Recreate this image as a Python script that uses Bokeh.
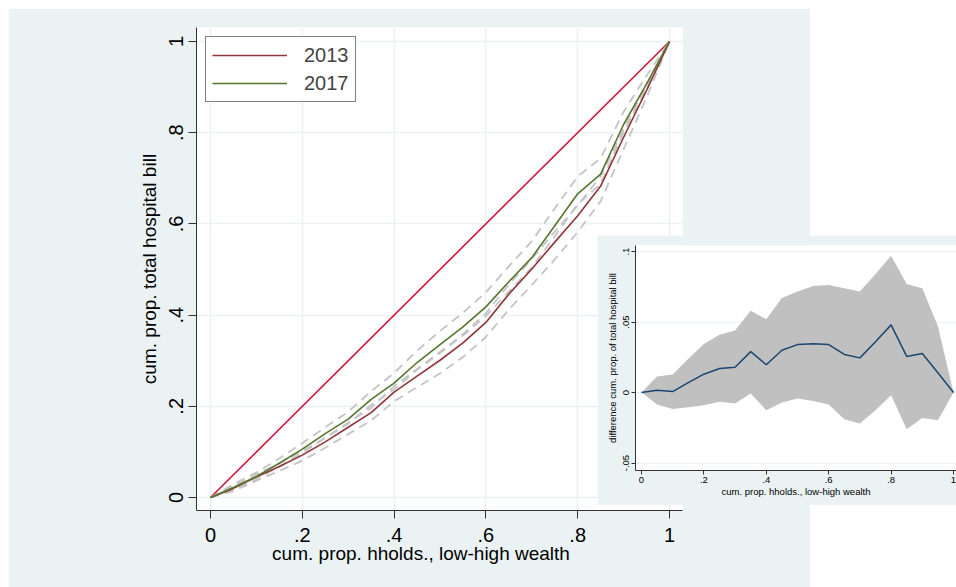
from bokeh.plotting import figure
from bokeh.models import FixedTicker, Legend, LegendItem, Range1d
from bokeh.embed import file_html
from bokeh.resources import INLINE

# ---------------- data ----------------
x_share = [0.00, 0.05, 0.10, 0.15, 0.20, 0.25, 0.30, 0.35, 0.40, 0.45, 0.50,
           0.55, 0.60, 0.65, 0.70, 0.75, 0.80, 0.85, 0.90, 0.95, 1.00]

equal_x = [0.0, 1.0]
equal_y = [0.0, 1.0]

conc_2013 = [0.000, 0.020, 0.045, 0.068, 0.093, 0.122, 0.154, 0.186, 0.231, 0.266, 0.301,
             0.339, 0.384, 0.446, 0.501, 0.560, 0.618, 0.683, 0.790, 0.893, 1.000]
conc_2017 = [0.000, 0.022, 0.046, 0.075, 0.106, 0.140, 0.172, 0.215, 0.251, 0.296, 0.335,
             0.374, 0.418, 0.473, 0.526, 0.596, 0.666, 0.709, 0.818, 0.907, 1.000]

ci_2013_lo = [0.000, 0.014, 0.037, 0.058, 0.081, 0.109, 0.139, 0.169, 0.211, 0.242, 0.272,
              0.308, 0.352, 0.412, 0.466, 0.522, 0.582, 0.650, 0.764, 0.877, 1.000]
ci_2013_hi = [0.000, 0.025, 0.051, 0.075, 0.102, 0.131, 0.164, 0.197, 0.244, 0.282, 0.319,
              0.358, 0.404, 0.467, 0.523, 0.583, 0.641, 0.704, 0.807, 0.904, 1.000]
ci_2017_lo = [0.000, 0.017, 0.040, 0.068, 0.097, 0.131, 0.162, 0.203, 0.237, 0.280, 0.317,
              0.355, 0.398, 0.452, 0.504, 0.573, 0.643, 0.688, 0.801, 0.896, 1.000]
ci_2017_hi = [0.000, 0.029, 0.055, 0.086, 0.119, 0.154, 0.188, 0.233, 0.273, 0.322, 0.365,
              0.405, 0.450, 0.507, 0.562, 0.634, 0.704, 0.744, 0.846, 0.925, 1.000]

diff_mid = [0.0, 0.0017, 0.0007, 0.0070, 0.0130, 0.0170, 0.0180, 0.0290, 0.0197, 0.0300, 0.0340,
            0.0346, 0.0340, 0.0270, 0.0246, 0.0360, 0.0480, 0.0256, 0.0277, 0.0140, 0.0]
diff_hi = [0.0, 0.0114, 0.0128, 0.0240, 0.0344, 0.0410, 0.0440, 0.0580, 0.0520, 0.0670, 0.0716,
           0.0756, 0.0763, 0.0740, 0.0716, 0.0840, 0.0970, 0.0770, 0.0740, 0.0470, 0.0]
diff_lo = [0.0, -0.0085, -0.0116, -0.0104, -0.0090, -0.0066, -0.0078, -0.0007, -0.0126, -0.0070, -0.0043,
           -0.0060, -0.0085, -0.0190, -0.0220, -0.0126, -0.0019, -0.0260, -0.0180, -0.0197, 0.0]

main_ticks = [0.0, 0.2, 0.4, 0.6, 0.8, 1.0]
main_tick_labels = ["0", ".2", ".4", ".6", ".8", "1"]
inset_yticks = [-0.05, 0.0, 0.05, 0.1]
inset_ytick_labels = ["-.05", "0", ".05", ".1"]

series_names = ["2013", "2017"]

# ---------------- styles ----------------
BG = "#EAF2F3"
FONT = "Liberation Sans"
MAROON = "#90353B"
GREEN = "#55752F"
NAVY = "#1A476F"
RED = "#D0163C"
GRAYDASH = "#C4C4C4"
AXIS = "#333333"
NBSP_PAD = "\u00a0" * 7   # shifts the centred x title left, as in the original


def style_axes(p, tick_size, label_size, tick_out):
    for ax in (p.xaxis[0], p.yaxis[0]):
        ax.axis_line_color = AXIS
        ax.axis_line_width = 1
        ax.major_tick_line_color = AXIS
        ax.major_tick_out = tick_out
        ax.major_tick_in = 0
        ax.minor_tick_line_color = None
        ax.major_label_text_font = FONT
        ax.major_label_text_font_size = tick_size
        ax.major_label_text_color = "black"
        ax.axis_label_text_font = FONT
        ax.axis_label_text_font_size = label_size
        ax.axis_label_text_font_style = "normal"
        ax.axis_label_text_color = "black"


# ---------------- main plot ----------------
p = figure(width=802, height=579, output_backend="svg", toolbar_location=None,
           x_range=Range1d(-0.0305, 1.0283), y_range=Range1d(-0.0285, 1.0307),
           min_border_left=188, min_border_right=128, min_border_top=19, min_border_bottom=77)
p.border_fill_color = BG
p.background_fill_color = "white"
p.outline_line_color = None

p.xaxis.ticker = FixedTicker(ticks=main_ticks)
p.yaxis.ticker = FixedTicker(ticks=main_ticks)
p.xaxis.major_label_overrides = dict(zip(main_ticks, main_tick_labels))
p.yaxis.major_label_overrides = dict(zip(main_ticks, main_tick_labels))
p.xgrid.ticker = FixedTicker(ticks=main_ticks)
p.ygrid.ticker = FixedTicker(ticks=main_ticks)
p.grid.grid_line_color = BG
p.grid.grid_line_width = 1.6
p.xaxis.axis_label = "cum. prop. hholds., low-high wealth" + NBSP_PAD
p.yaxis.axis_label = "cum. prop. total hospital bill"
style_axes(p, "20px", "19px", 8)
p.yaxis.major_label_orientation = "vertical"
p.xaxis.major_label_standoff = 9
p.xaxis.axis_label_standoff = -2
p.yaxis.major_label_standoff = 5
p.yaxis.axis_label_standoff = 7

p.line(equal_x, equal_y, line_color=RED, line_width=1.6)
for ci in (ci_2013_lo, ci_2013_hi, ci_2017_lo, ci_2017_hi):
    p.line(x_share, ci, line_color=GRAYDASH, line_width=1.8, line_dash="9 6")
r13 = p.line(x_share, conc_2013, line_color=MAROON, line_width=1.6)
r17 = p.line(x_share, conc_2017, line_color=GREEN, line_width=1.6)

legend = Legend(items=[LegendItem(label=series_names[0], renderers=[r13]),
                       LegendItem(label=series_names[1], renderers=[r17])],
                location="top_left", margin=9, padding=6, spacing=4,
                glyph_width=75, glyph_height=24, label_height=24, label_standoff=17,
                label_text_font=FONT, label_text_font_size="20px",
                border_line_color="black", border_line_width=1,
                background_fill_color="white", background_fill_alpha=1.0)
p.add_layout(legend)
p.styles = {"position": "absolute", "left": "8px", "top": "8px"}

# ---------------- inset ----------------
q = figure(width=359, height=270, output_backend="svg", toolbar_location=None,
           x_range=Range1d(-0.0192, 1.0096), y_range=Range1d(-0.0553, 0.1043),
           min_border_left=38, min_border_right=0, min_border_top=10, min_border_bottom=35)
q.border_fill_color = BG
q.background_fill_color = "white"
q.outline_line_color = None
q.xaxis.ticker = FixedTicker(ticks=main_ticks)
q.xaxis.major_label_overrides = dict(zip(main_ticks, main_tick_labels))
q.yaxis.ticker = FixedTicker(ticks=inset_yticks)
q.yaxis.major_label_overrides = dict(zip(inset_yticks, inset_ytick_labels))
q.xgrid.grid_line_color = None
q.ygrid.ticker = FixedTicker(ticks=inset_yticks)
q.ygrid.grid_line_color = BG
q.ygrid.grid_line_width = 1.2
q.xaxis.axis_label = "cum. prop. hholds., low-high wealth"
q.yaxis.axis_label = "difference cum. prop. of total hospital bill"
style_axes(q, "9.5px", "9.5px", 4)
q.yaxis.major_label_orientation = "vertical"
q.xaxis.major_label_standoff = 2
q.xaxis.axis_label_standoff = 0
q.yaxis.major_label_standoff = 2
q.yaxis.axis_label_standoff = 3

q.varea(x=x_share, y1=diff_lo, y2=diff_hi, fill_color="#C0C0C0", fill_alpha=1.0)
q.line(x_share, diff_mid, line_color=NAVY, line_width=1.5)

q.styles = {"position": "absolute", "left": "597px", "top": "235px", "z-index": "10"}

open("out.html", "w").write(file_html([p, q], INLINE))
